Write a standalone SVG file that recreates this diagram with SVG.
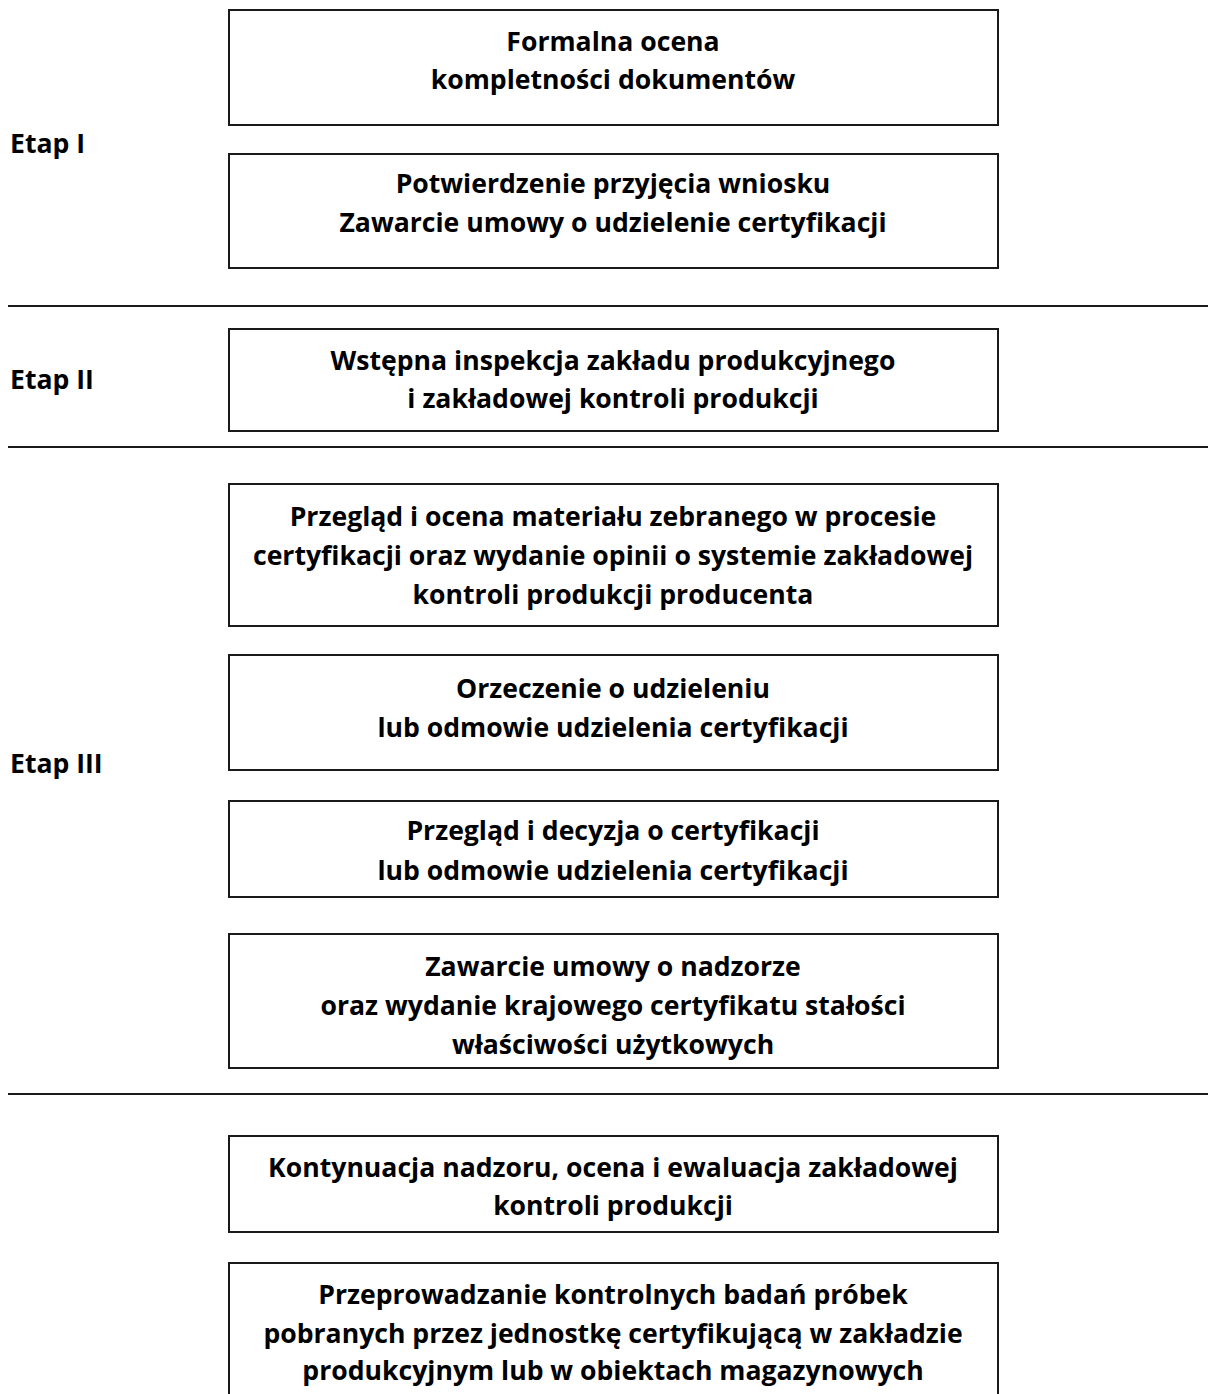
<svg xmlns="http://www.w3.org/2000/svg" width="1208" height="1394" viewBox="0 0 1208 1394">
<style>
.box{fill:#fff;stroke:#1a1a1a;stroke-width:2}
.sep{stroke:#1a1a1a;stroke-width:2}
text{font-family:"Open Sans","Liberation Sans",sans-serif;font-weight:bold;font-size:26.6px;fill:#000}
.c{text-anchor:middle}
</style>
<rect width="1208" height="1394" fill="#fff"/>
<g id="separators">
<line class="sep" x1="8" y1="306" x2="1208" y2="306"/>
<line class="sep" x1="8" y1="447" x2="1208" y2="447"/>
<line class="sep" x1="8" y1="1094" x2="1208" y2="1094"/>
</g>
<g id="labels">
<text x="10" y="153">Etap I</text>
<text x="10" y="389">Etap II</text>
<text x="10" y="773">Etap III</text>
</g>
<g id="n1"><rect class="box" x="229" y="10" width="769" height="115"/>
<text class="c" x="613" y="51">Formalna ocena</text><text class="c" x="613" y="89">kompletności dokumentów</text></g>
<g id="n2"><rect class="box" x="229" y="154" width="769" height="114"/>
<text class="c" x="613" y="193">Potwierdzenie przyjęcia wniosku</text><text class="c" x="613" y="232">Zawarcie umowy o udzielenie certyfikacji</text></g>
<g id="n3"><rect class="box" x="229" y="329" width="769" height="102"/>
<text class="c" x="613" y="370">Wstępna inspekcja zakładu produkcyjnego</text><text class="c" x="613" y="408">i zakładowej kontroli produkcji</text></g>
<g id="n4"><rect class="box" x="229" y="484" width="769" height="142"/>
<text class="c" x="613" y="526">Przegląd i ocena materiału zebranego w procesie</text><text class="c" x="613" y="565">certyfikacji oraz wydanie opinii o systemie zakładowej</text><text class="c" x="613" y="604">kontroli produkcji producenta</text></g>
<g id="n5"><rect class="box" x="229" y="655" width="769" height="115"/>
<text class="c" x="613" y="698">Orzeczenie o udzieleniu</text><text class="c" x="613" y="737">lub odmowie udzielenia certyfikacji</text></g>
<g id="n6"><rect class="box" x="229" y="801" width="769" height="96"/>
<text class="c" x="613" y="840">Przegląd i decyzja o certyfikacji</text><text class="c" x="613" y="880">lub odmowie udzielenia certyfikacji</text></g>
<g id="n7"><rect class="box" x="229" y="934" width="769" height="134"/>
<text class="c" x="613" y="976">Zawarcie umowy o nadzorze</text><text class="c" x="613" y="1015">oraz wydanie krajowego certyfikatu stałości</text><text class="c" x="613" y="1054">właściwości użytkowych</text></g>
<g id="n8"><rect class="box" x="229" y="1136" width="769" height="96"/>
<text class="c" x="613" y="1177">Kontynuacja nadzoru, ocena i ewaluacja zakładowej</text><text class="c" x="613" y="1215">kontroli produkcji</text></g>
<g id="n9"><rect class="box" x="229" y="1263" width="769" height="150"/>
<text class="c" x="613" y="1304">Przeprowadzanie kontrolnych badań próbek</text><text class="c" x="613" y="1343">pobranych przez jednostkę certyfikującą w zakładzie</text><text class="c" x="613" y="1380">produkcyjnym lub w obiektach magazynowych</text></g>
</svg>
